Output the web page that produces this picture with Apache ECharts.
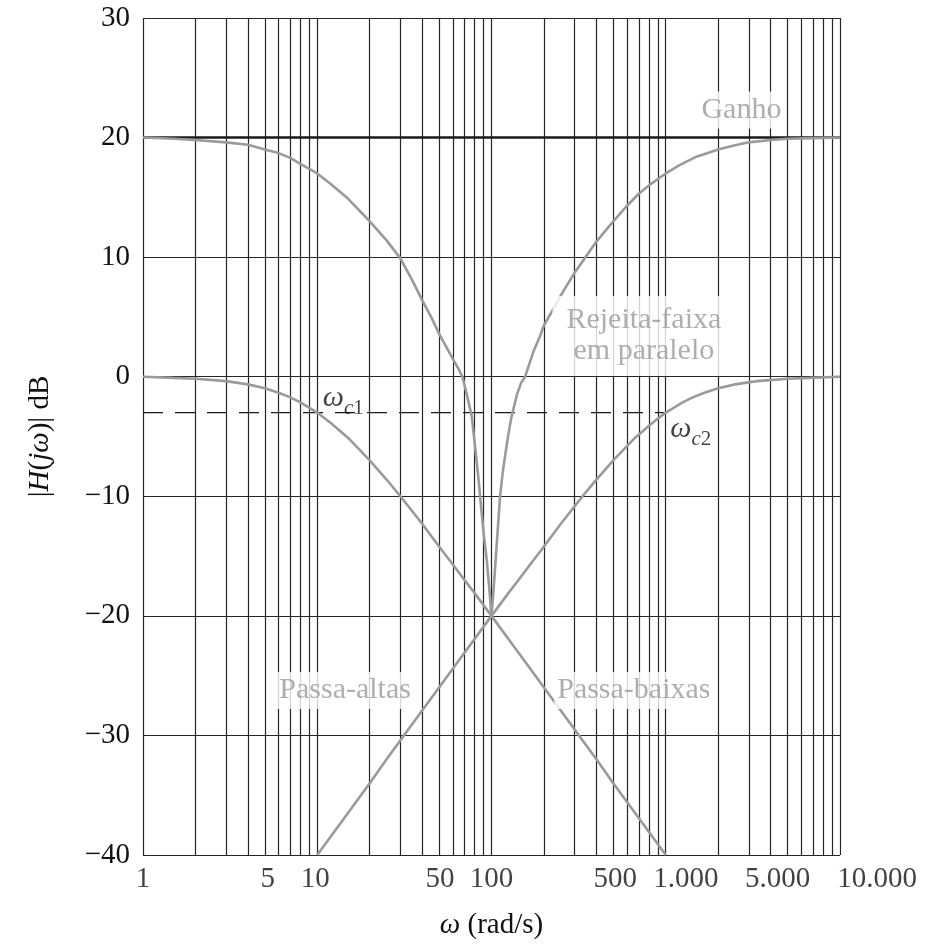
<!DOCTYPE html>
<html>
<head>
<meta charset="utf-8">
<script src="https://cdn.jsdelivr.net/npm/echarts@6/dist/echarts.min.js"></script>
<style>
html,body{margin:0;padding:0;background:#fff;}
#chart{width:934px;height:945px;}
</style>
</head>
<body>
<div id="chart"></div>
<script>
// ---- data ----
const lpW  = [1,1.5,2,3,4,5,6,7,8,10,12,15,20,25,30,40,50,60,70,80,100,150,200,300,400,500,700,1000];
const lpDb = [0,-0.1,-0.17,-0.37,-0.64,-0.97,-1.34,-1.73,-2.15,-3.0,-3.9,-5.1,-7.0,-8.6,-10.0,-12.3,-14.2,-15.7,-17.0,-18.1,-20.0,-23.5,-26.0,-29.5,-32.0,-34.0,-36.9,-40];

const hpW  = [10,14.3,20,25,33.3,50,66.7,100,125,142.9,166.7,200,250,333,400,500,667,833,1000,1250,1428,1667,2000,2500,3333,5000,6667,10000];
const hpDb = [-40,-36.9,-34,-32,-29.5,-26,-23.5,-20,-18.1,-17,-15.7,-14.2,-12.3,-10,-8.6,-7.0,-5.1,-3.9,-3.0,-2.15,-1.73,-1.34,-0.97,-0.64,-0.37,-0.17,-0.1,0];

const brLeftW  = [1,1.5,2,3,4,5,6,7,8,10,12,15,20,25,30,35,40,45,50,55,60,65,68,72,77,81,84,86,90,94,97,100];
const brLeftDb = [20,19.9,19.8,19.6,19.4,19,18.7,18.3,17.8,17,16.1,14.9,13.0,11.4,9.9,8.1,6.4,5.0,3.6,2.5,1.5,0.6,0,-1.4,-3.3,-6.2,-8.4,-10,-13,-15.4,-17.6,-20];

const brRightW  = [100,103,106,109,112,116,120,125,130,140,148,156,165,175,190,200,225,250,275,300,350,400,450,500,600,700,800,1000,1200,1500,2000,2500,3000,4000,5000,7000,10000];
const brRightDb = [-20,-17.6,-15,-12.5,-10,-8,-6.5,-4.8,-3.4,-1.5,-0.5,0,1.1,2.2,3.4,4.3,5.6,6.8,7.8,8.7,10.1,11.3,12.2,13,14.3,15.3,16,17,17.7,18.4,19,19.35,19.6,19.8,19.9,19.95,20];

const gainW  = [1,10000];
const gainDb = [20,20];

const cutW  = [1,1000];
const cutDb = [-3,-3];

const xTickValues = [1,5,10,50,100,500,1000,5000,10000];
const xTickLabels = ['1','5','10','50','100','500','1.000','5.000','10.000'];
const yMin = -40, yMax = 30, yStep = 10;

const annotations = [
  {text:'Ganho', w:2718, db:22.3},
  {text:'Rejeita-faixa\nem paralelo', w:701, db:3.4},
  {text:'Passa-altas', w:14.45, db:-26.25},
  {text:'Passa-baixas', w:656, db:-26.25},
  {text:'{w|ω}{s|c}{n|1}', w:10.7, db:-2.0, sub:true},
  {text:'{w|ω}{s|c}{n|2}', w:1055, db:-4.6, sub:true}
];

// ---- presentation ----
const SERIF = "'Liberation Serif','DejaVu Serif',serif";
const GRID_COLOR = '#262626';
const CURVE = '#9a9a9a';
const LABEL_GREY = '#9a9a9a';
const xNudge = [0,3,-2,1,0,2,20,-10,37];

const pairs = (a,b) => a.map((v,i)=>[v,b[i]]);

// vertical grid values 1..9 per decade
const vGrid = [];
for (let d=1; d<=1000; d*=10) for (let k=1;k<=9;k++) vGrid.push(k*d);
vGrid.push(10000);

const subRich = {
  w:{fontFamily:SERIF,fontSize:30,fontStyle:'italic',color:'#111',verticalAlign:'bottom',padding:[0,0,6,0]},
  s:{fontFamily:SERIF,fontSize:21,fontStyle:'italic',color:'#111',verticalAlign:'bottom'},
  n:{fontFamily:SERIF,fontSize:21,color:'#111',verticalAlign:'bottom'}
};

const annData = annotations.map(a=>{
  const item = {value:[a.w,a.db]};
  if (a.sub) {
    item.label = {show:true,position:'right',distance:0,formatter:a.text,rich:subRich};
  } else {
    item.label = {show:true,position:'inside',formatter:a.text,
      fontFamily:SERIF,fontSize:30,color:LABEL_GREY,lineHeight:31,
      backgroundColor:'#fff',padding:a.text.indexOf('\n')>=0?[9,4,9,14]:[3,3,3,3]};
  }
  return item;
});

const xLabData = xTickValues.map((v,i)=>({
  value:[v,yMin],
  label:{show:true,position:'bottom',distance:9,offset:[xNudge[i],0],formatter:xTickLabels[i],
    fontFamily:SERIF,fontSize:29,color:'#111'}
}));

const curveStyle = {color:CURVE,width:2.6};
function curve(name,w,db){
  return {name,type:'line',data:pairs(w,db),showSymbol:false,symbol:'none',
    lineStyle:curveStyle,smooth:false,z:6,silent:true,clip:true};
}

const option = {
  animation:false,
  grid:{left:143,right:94,top:18,bottom:87,containLabel:false},
  xAxis:{
    type:'log',logBase:10,min:1,max:10000,
    axisLine:{show:false},axisTick:{show:false},axisLabel:{show:false},splitLine:{show:false},
    name:'{i|ω} (rad/s)',nameLocation:'middle',nameGap:56,
    nameTextStyle:{fontFamily:SERIF,fontSize:29,color:'#111',
      rich:{i:{fontFamily:SERIF,fontSize:29,fontStyle:'italic',color:'#111'}}}
  },
  yAxis:{
    type:'value',min:yMin,max:yMax,interval:yStep,
    axisLine:{show:false},axisTick:{show:false},
    axisLabel:{fontFamily:SERIF,fontSize:29,color:'#111',margin:13,
      formatter:v=> v<0 ? '\u2212'+Math.abs(v) : String(v)},
    splitLine:{show:true,lineStyle:{color:GRID_COLOR,width:1.2}},
    name:'|{i|H}({i|jω})| dB',nameLocation:'middle',nameGap:88,nameRotate:90,
    nameTextStyle:{fontFamily:SERIF,fontSize:29,color:'#111',
      rich:{i:{fontFamily:SERIF,fontSize:29,fontStyle:'italic',color:'#111'}}}
  },
  series:[
    {type:'line',data:[],silent:true,z:1,
      markLine:{silent:true,z:1,symbol:'none',label:{show:false},animation:false,
        lineStyle:{color:GRID_COLOR,width:1.2,type:'solid'},
        data:vGrid.map(v=>({xAxis:v}))}},
    {name:'Ganho',type:'line',data:pairs(gainW,gainDb),showSymbol:false,symbol:'none',
      lineStyle:{color:'#1a1a1a',width:2.6},z:3,silent:true},
    {name:'corte',type:'line',data:pairs(cutW,cutDb),showSymbol:false,symbol:'none',
      lineStyle:{color:'#1a1a1a',width:1.3,type:[20,12]},z:3,silent:true},
    curve('Passa-baixas',lpW,lpDb),
    curve('Passa-altas',hpW,hpDb),
    curve('Rejeita-faixa A',brLeftW,brLeftDb),
    curve('Rejeita-faixa B',brRightW,brRightDb),
    {type:'scatter',data:annData,symbolSize:1,itemStyle:{color:'rgba(0,0,0,0)'},z:8,silent:true,clip:false},
    {type:'scatter',data:xLabData,symbolSize:1,itemStyle:{color:'rgba(0,0,0,0)'},z:8,silent:true,clip:false}
  ]
};

const chart = echarts.init(document.getElementById('chart'),null,{renderer:'canvas'});
chart.setOption(option);
</script>
</body>
</html>
